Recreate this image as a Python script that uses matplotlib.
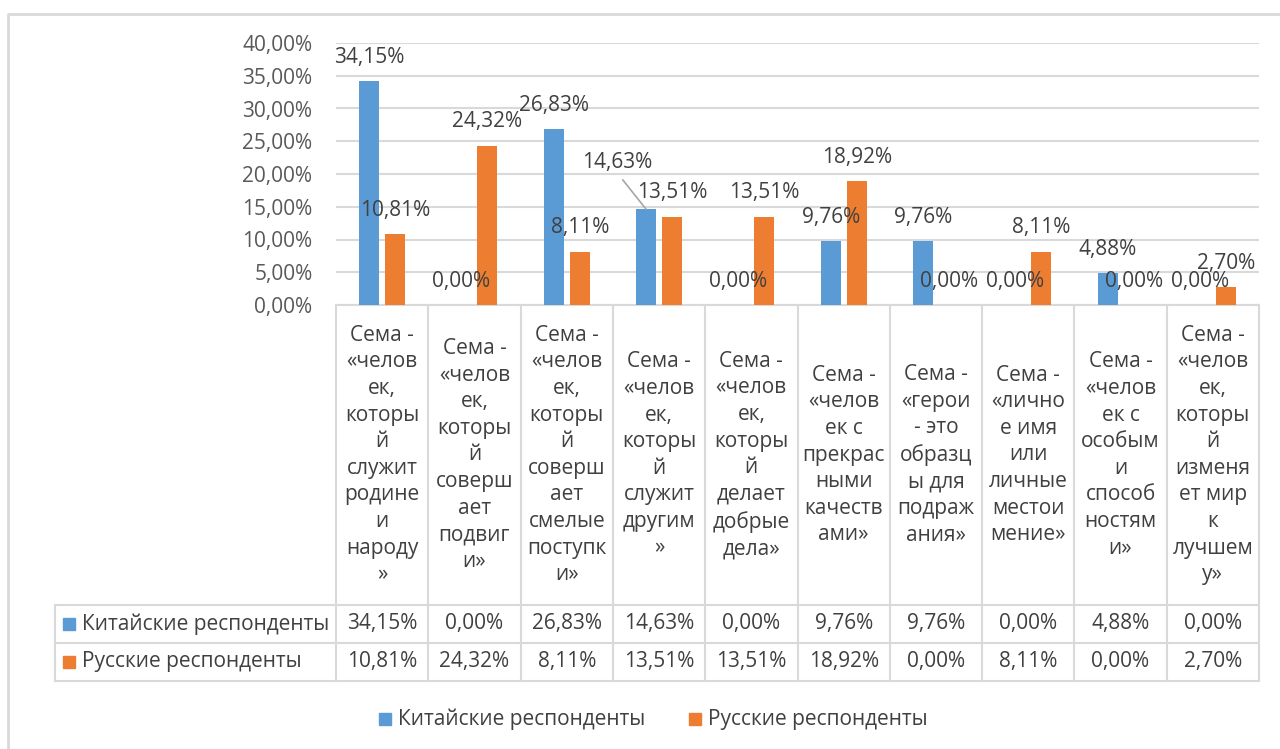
import numpy as np
import matplotlib
matplotlib.use('Agg')
import matplotlib.pyplot as plt
from matplotlib.patches import Rectangle
from matplotlib.lines import Line2D

categories = [
    "Сема -\n«челов\nек,\nкоторы\nй\nслужит\nродине\nи\nнароду\n»",
    "Сема -\n«челов\nек,\nкоторы\nй\nсоверш\nает\nподвиг\nи»",
    "Сема -\n«челов\nек,\nкоторы\nй\nсоверш\nает\nсмелые\nпоступк\nи»",
    "Сема -\n«челов\nек,\nкоторы\nй\nслужит\nдругим\n»",
    "Сема -\n«челов\nек,\nкоторы\nй\nделает\nдобрые\nдела»",
    "Сема -\n«челов\nек с\nпрекрас\nными\nкачеств\nами»",
    "Сема -\n«герои\n- это\nобразц\nы для\nподраж\nания»",
    "Сема -\n«лично\nе имя\nили\nличные\nместои\nмение»",
    "Сема -\n«челов\nек с\nособым\nи\nспособ\nностям\nи»",
    "Сема -\n«челов\nек,\nкоторы\nй\nизменя\nет мир\nк\nлучшем\nу»",
]
series_names = ["Китайские респонденты", "Русские респонденты"]
chinese = [34.15, 0.00, 26.83, 14.63, 0.00, 9.76, 9.76, 0.00, 4.88, 0.00]
russian = [10.81, 24.32, 8.11, 13.51, 13.51, 18.92, 0.00, 8.11, 0.00, 2.70]
y_ticks = [0, 5, 10, 15, 20, 25, 30, 35, 40]
colors = ['#5B9BD5', '#ED7D31']

plt.rcParams['font.family'] = ['Open Sans', 'DejaVu Sans']
FS = 15
TXT = '#404040'
GRID = '#D9D9D9'

def fmt(v):
    return f"{v:.2f}".replace('.', ',') + '%'

W, H = 1280, 749
fig = plt.figure(figsize=(12.8, 7.49), dpi=100)

# overlay for table / frame in pixel coordinates
ov = fig.add_axes([0, 0, 1, 1], zorder=0)
ov.set_xlim(0, W)
ov.set_ylim(H, 0)
ov.axis('off')

L, R, T, B = 336, 1259, 43, 305
ax = fig.add_axes([L / W, 1 - B / H, (R - L) / W, (B - T) / H], zorder=1)
ax.patch.set_visible(False)
n = len(categories)
x = np.arange(n)
bw = 0.217
off = 0.141
ax.bar(x - off, chinese, bw, color=colors[0], zorder=3)
ax.bar(x + off, russian, bw, color=colors[1], zorder=3)
ax.set_xlim(-0.5, n - 0.5)
ax.set_ylim(0, 40)
ax.set_yticks(y_ticks)
ax.set_yticklabels([fmt(t) for t in y_ticks])
ax.set_xticks([])
ax.yaxis.grid(True, color=GRID, lw=1.5)
ax.set_axisbelow(True)
for s in ax.spines.values():
    s.set_visible(False)
ax.tick_params(axis='y', length=0, pad=17, labelsize=FS, labelcolor='#595959')

# data labels
for vals, o in ((chinese, -off), (russian, off)):
    for i, v in enumerate(vals):
        if vals is chinese and i == 3:
            ax.annotate(fmt(v), (i + o, v), xytext=(-29, 47), textcoords='offset pixels',
                        ha='center', va='center', fontsize=FS, color=TXT, zorder=5,
                        arrowprops=dict(arrowstyle='-', color='#A6A6A6', lw=1.2,
                                        relpos=(0.5, 0), shrinkA=4, shrinkB=0))
        else:
            ax.annotate(fmt(v), (i + o, v), xytext=(0, 24), textcoords='offset pixels',
                        ha='center', va='center', fontsize=FS, color=TXT, zorder=5)

# chart frame
ov.add_line(Line2D([8, 8, W + 5], [H + 5, 14, 14], color=GRID, lw=2))

# table
TL = 55
r0, r1, r2, r3 = 305, 605, 643, 681
colw = (R - L) / n
edges = [L + i * colw for i in range(n + 1)]
lc = dict(color=GRID, lw=1.5)
ov.add_line(Line2D([L, R], [r0, r0], **lc))
for yy in (r1, r2, r3):
    ov.add_line(Line2D([TL, R], [yy, yy], **lc))
ov.add_line(Line2D([TL, TL], [r1, r3], **lc))
for e in edges:
    ov.add_line(Line2D([e, e], [r0, r3], **lc))

for i, cat in enumerate(categories):
    cx = (edges[i] + edges[i + 1]) / 2
    ov.text(cx, (r0 + r1) / 2, cat, ha='center', va='center', multialignment='center',
            fontsize=FS, color=TXT, linespacing=1.35)

for k, (name, vals) in enumerate(zip(series_names, (chinese, russian))):
    cy = (r1 + r2) / 2 if k == 0 else (r2 + r3) / 2
    ov.add_patch(Rectangle((63, cy - 6), 12, 12, color=colors[k]))
    ov.text(82, cy, name, ha='left', va='center', fontsize=FS, color=TXT)
    for i, v in enumerate(vals):
        cx = (edges[i] + edges[i + 1]) / 2
        ov.text(cx, cy, fmt(v), ha='center', va='center', fontsize=FS, color=TXT)

# legend
ly = 719
for k, (name, sx) in enumerate(zip(series_names, (379, 689))):
    ov.add_patch(Rectangle((sx, ly - 6), 12, 12, color=colors[k]))
    ov.text(sx + 19, ly, name, ha='left', va='center', fontsize=FS, color=TXT)

fig.savefig('out.png', dpi=100)
